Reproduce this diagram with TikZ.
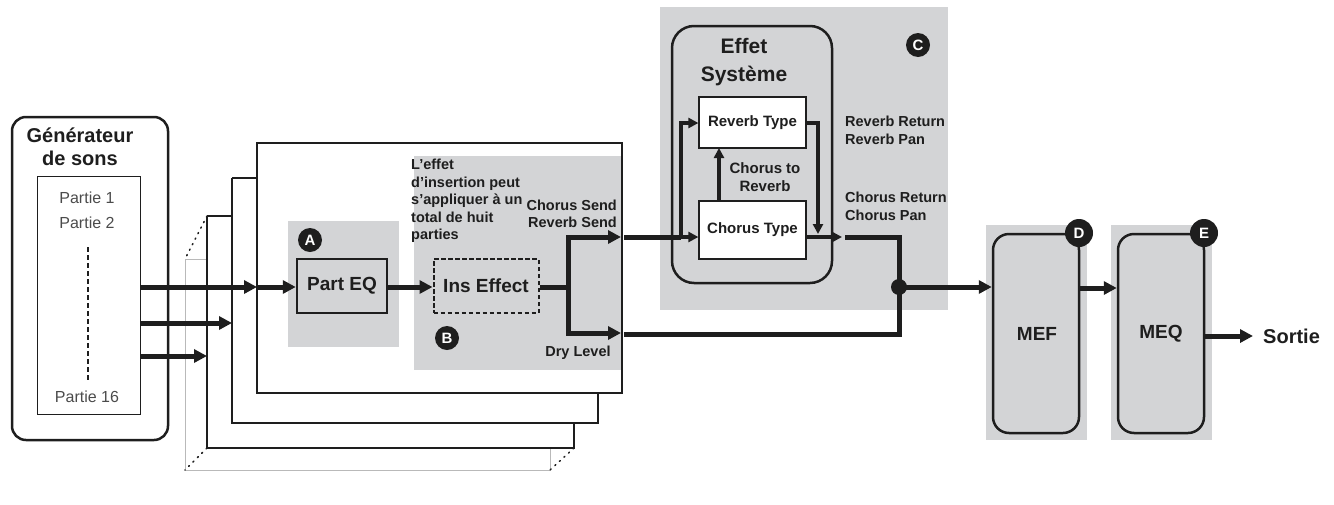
\documentclass[tikz,border=0pt]{standalone}
\usepackage{fontspec}
\setmainfont{Liberation Sans}
\usetikzlibrary{arrows.meta}
\definecolor{gr}{RGB}{211,212,214}
\definecolor{ink}{RGB}{30,30,30}
\begin{document}
\begin{tikzpicture}[x=1pt,y=-1pt,ink,
 thick line/.style={line width=5pt},
 arr/.style={thick line,-{Triangle[length=13pt,width=13pt]}},
 sarr/.style={line width=3.5pt,-{Triangle[length=10pt,width=10pt]}},
 lbl/.style={font=\bfseries\fontsize{14.5}{17.5}\selectfont,inner sep=0pt},
 blk/.style={font=\bfseries\fontsize{20}{23}\selectfont,inner sep=0pt},
 mid/.style={font=\bfseries\fontsize{19}{20}\selectfont,inner sep=0pt},
 circ/.style={circle,fill=ink,text=white,font=\bfseries\fontsize{15}{15}\selectfont,inner sep=0pt,minimum size=24pt},
 dotl/.style={line width=1.5pt,dash pattern=on 1.2pt off 5pt,line cap=round},
 part/.style={font=\fontsize{16}{18}\selectfont,text=ink!80,inner sep=0pt}]
\useasboundingbox (0,0) rectangle (1334,504);
% gray backgrounds
\fill[gr] (660,7) rectangle (948,310);
\fill[gr] (986,225) rectangle (1087,440);
\fill[gr] (1111,225) rectangle (1212,440);
% generator
\draw[line width=2.5pt,rounded corners=14pt] (12,117) rectangle (168,440);
\node[blk,align=center] (gen) at (80,147) {Générateur\\de sons};
\draw[line width=1pt] (37,176) rectangle (140,414);
\node[part] (p1) at (87,198) {Partie 1};
\node[part] (p2) at (87,223) {Partie 2};
\node[part] (p16) at (87,397) {Partie 16};
\draw[line width=2pt,dash pattern=on 5pt off 3pt] (88,247) -- (88,382);
% stacked frames
\draw[gray!55,line width=1pt] (185,259) -- (207,259) (185,259) -- (185,470) -- (550,470) -- (550,448);
\draw[line width=1.2pt] (207,216) -- (232,216) (207,216) -- (207,448) -- (574,448) -- (574,423);
\draw[line width=1.2pt] (232,178) -- (257,178) (232,178) -- (232,423) -- (598,423) -- (598,393);
\draw[dotl] (207,216) -- (185,259) (207,448) -- (185,470) (574,448) -- (550,470);
\fill[white] (257,143) rectangle (622,393);
\fill[gr] (288,221) rectangle (399,347);
\fill[gr] (414,156) rectangle (622,370);
\draw[line width=2.5pt] (257,143) rectangle (622,393);
% part EQ & ins effect
\node[draw,line width=2.5pt,minimum width=90pt,minimum height=54pt,mid] (peq) at (342,286) {Part EQ};
\node[circ] (A) at (310,240) {A};
\node[draw,line width=2pt,dash pattern=on 4.5pt off 2.5pt,minimum width=105pt,minimum height=54pt,mid] (ins) at (486,286) {Ins Effect};
\node[circ] (B) at (447,338) {B};
\node[lbl,align=left,anchor=north west] (txt) at (411,159) {L'effet\\d'insertion peut\\s'appliquer à un\\total de huit\\parties};
\node[lbl,anchor=east] (cs) at (617,205) {Chorus Send};
\node[lbl,anchor=east] (rs) at (617,222) {Reverb Send};
\node[lbl] (dry) at (578,353) {Dry Level};
% input arrows
\coordinate (i1) at (140,287); \coordinate (i2) at (140,323); \coordinate (i3) at (140,356);
\draw[arr] (i1) -- (257,287);
\draw[arr] (257,287) -- (peq.west |- 0,287);
\draw[arr] (i2) -- (232,323);
\draw[arr] (i3) -- (207,356);
\draw[arr] (peq.east |- 0,287) -- (ins.west |- 0,287);
\coordinate (sp) at (570,287);
\draw[thick line] (ins.east |- 0,287) -- (sp);
\draw[arr] (568,287) |- (621,237);
\draw[arr] (568,287) |- (621,333);
% system effect
\draw[line width=2.5pt,rounded corners=22pt] (672,26) rectangle (832,283);
\node[blk,align=center,font=\bfseries\fontsize{21}{28}\selectfont] (sys) at (744,62) {Effet\\Système};
\node[circ] (C) at (918,45) {C};
\node[draw,fill=white,line width=1.2pt,minimum width=107pt,minimum height=51pt,inner sep=0pt,font=\bfseries\fontsize{15}{16}\selectfont] (rev) at (752.5,122.5) {Reverb Type};
\node[draw,fill=white,line width=1.2pt,minimum width=107pt,minimum height=58pt,inner sep=0pt,font=\bfseries\fontsize{15}{16}\selectfont] (cho) at (752.5,230) {Chorus Type};
\coordinate (br) at (681,237);
\draw[thick line] (624,237) -- (br);
\draw[sarr] (br) -- (cho.west |- 0,237);
\draw[line width=3.5pt] (br) |- (688,123);
\draw[sarr] (686,123) -- (rev.west |- 0,123);
\draw[sarr] (719,201) -- (719,148);
\node[lbl,align=center,font=\bfseries\fontsize{15}{18}\selectfont] (ctr) at (765,177) {Chorus to\\Reverb};
\draw[line width=3.5pt] (806,123) -- (818,123) -- (818,220);
\draw[sarr] (818,216) -- (818,234);
\draw[sarr] (806,237) -- (842,237);
\node[lbl,anchor=west] (rr) at (845,121) {Reverb Return};
\node[lbl,anchor=west] (rp) at (845,139) {Reverb Pan};
\node[lbl,anchor=west] (cr) at (845,197) {Chorus Return};
\node[lbl,anchor=west] (cp) at (845,215) {Chorus Pan};
\coordinate (j) at (899,287);
\draw[thick line] (845,237) -| (j);
\draw[thick line] (624,334) -| (j);
\fill (j) circle (8pt);
% MEF, MEQ
\node[draw,line width=2.5pt,rounded corners=16pt,minimum width=86pt,minimum height=199pt,fill=gr] (mef) at (1036,333.5) {};
\node[mid] at (1037,334) {MEF};
\node[circ,minimum size=28pt] (D) at (1079,233) {D};
\node[draw,line width=2.5pt,rounded corners=16pt,minimum width=86pt,minimum height=199pt,fill=gr] (meq) at (1161,333.5) {};
\node[mid] at (1161,334) {MEQ};
\node[circ,minimum size=28pt] (E) at (1204,233) {E};
\draw[arr] (j) -- (mef.west |- j);
\draw[arr] (mef.east |- 0,288) -- (meq.west |- 0,288);
\node[mid,anchor=west,font=\bfseries\fontsize{20}{20}\selectfont] (out) at (1263,336) {Sortie};
\draw[arr] (meq.east |- 0,336) -- (1253,336);
\end{tikzpicture}
\end{document}
